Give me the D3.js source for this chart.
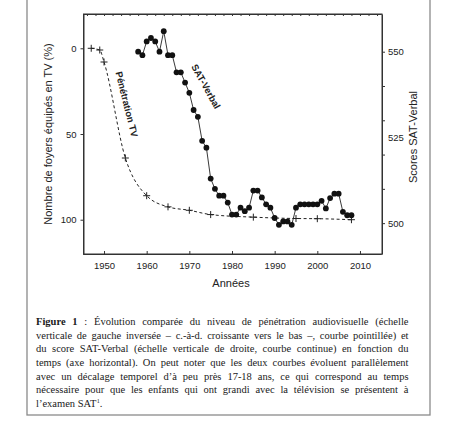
<!DOCTYPE html>
<html>
<head>
<meta charset="utf-8">
<script src="https://cdn.jsdelivr.net/npm/d3@7"></script>
<style>
  body { margin: 0; background: #fff; }
  svg { display: block; }
</style>
</head>
<body>
<div id="chart"></div>
<script>
// TV penetration (% of households, left axis, inverted)
const tvYears = [1947, 1949, 1950, 1955, 1960, 1965, 1970, 1975, 1985, 1995, 2000, 2008];
const tvPct = [0, 1, 8, 64, 86, 92.5, 94.5, 97, 98.5, 99.3, 99.4, 100];

// SAT-Verbal scores (right axis)
const satYears = [1958, 1959, 1960, 1961, 1962, 1963, 1964, 1965, 1966, 1967,
    1968, 1969, 1970, 1971, 1972, 1973, 1974, 1975, 1976, 1977,
    1978, 1979, 1980, 1981, 1982, 1983, 1984, 1985, 1986, 1987,
    1988, 1989, 1990, 1991, 1992, 1993, 1994, 1995, 1996, 1997,
    1998, 1999, 2000, 2001, 2002, 2003, 2004, 2005, 2006, 2007, 2008];
const satScores = [550, 549, 553, 554, 553, 550, 556, 549, 549, 544,
    544, 541, 538, 533, 531, 524, 522, 513, 510, 508,
    508, 506, 502.5, 502.5, 504.5, 503.5, 504.5, 509.5, 509.5, 507.5,
    505.5, 504.5, 501.5, 499.5, 500.5, 500.5, 499.5, 504.5, 505.5, 505.5,
    505.5, 505.5, 505.5, 506.5, 504.3, 507.3, 508.6, 508.6, 503.3, 502.3, 502.3];

// ticks
const xTicks = [1950, 1960, 1970, 1980, 1990, 2000, 2010];
const topTicks = [1946, 1948, 1950, 1952, 1954, 1956, 1958, 1960, 1962, 1964, 1966,
    1968, 1970, 1972, 1974, 1976, 1978, 1980, 1982, 1984, 1986, 1988, 1990,
    1992, 1994, 1996, 1998, 2000, 2002, 2004, 2006, 2008, 2010, 2012, 2014];
const leftTicks = [0, 50, 100];
const rightTicks = [500, 510, 520, 530, 540, 550];
const rightLabels = [500, 525, 550];

// caption lines (justified, last one left aligned)
const captionLines = [
    "Figure 1 : Évolution comparée du niveau de pénétration audiovisuelle (échelle",
    "verticale de gauche inversée – c.-à-d. croissante vers le bas –, courbe pointillée) et",
    "du score SAT-Verbal (échelle verticale de droite, courbe continue) en fonction du",
    "temps (axe horizontal). On peut noter que les deux courbes évoluent parallèlement",
    "avec un décalage temporel d’à peu près 17-18 ans, ce qui correspond au temps",
    "nécessaire pour que les enfants qui ont grandi avec la télévision se présentent à",
    "l’examen SAT"
];

const W = 465, H = 423;
const plot = { left: 83.5, right: 382, top: 14, bottom: 254 };
const sans = "'Liberation Sans', Arial, sans-serif";

const svg = d3.select("#chart").append("svg")
    .attr("width", W)
    .attr("height", H);

svg.append("rect").attr("width", W).attr("height", H).attr("fill", "#fff");

//outer figure frame
svg.append("rect")
    .attr("x", 27).attr("y", -2)
    .attr("width", 403).attr("height", 417)
    .attr("fill", "none")
    .attr("stroke", "#8a8a8a")
    .attr("stroke-width", 1.3);

//scales
const x = d3.scaleLinear().domain([1945, 2015]).range([82.7, 381.3]);
const yTv = d3.scaleLinear().domain([-20, 120]).range([plot.top, plot.bottom]);
const ySat = d3.scaleLinear().domain([491, 561]).range([plot.bottom, plot.top]);

//axes
const gBottom = svg.append("g")
    .attr("transform", "translate(0," + plot.bottom + ")")
    .call(d3.axisBottom(x).tickValues(xTicks).tickFormat(d3.format("d"))
        .tickSizeInner(-3).tickSizeOuter(0).tickPadding(8));

const gTop = svg.append("g")
    .attr("transform", "translate(0," + plot.top + ")")
    .call(d3.axisTop(x).tickValues(topTicks).tickFormat("")
        .tickSizeInner(-2).tickSizeOuter(0));

const gLeft = svg.append("g")
    .attr("transform", "translate(" + plot.left + ",0)")
    .call(d3.axisLeft(yTv).tickValues(leftTicks)
        .tickSizeInner(3).tickSizeOuter(0).tickPadding(4));

const gRight = svg.append("g")
    .attr("transform", "translate(" + plot.right + ",0)")
    .call(d3.axisRight(ySat).tickValues(rightTicks).tickFormat("")
        .tickSizeInner(3).tickSizeOuter(0));

svg.append("g")
    .attr("transform", "translate(" + plot.right + ",0)")
    .call(d3.axisRight(ySat).tickValues(rightLabels)
        .tickSize(0).tickPadding(6))
    .call(g => g.select(".domain").remove());

svg.selectAll(".domain").attr("stroke", "#333").attr("stroke-width", 1);
svg.selectAll(".tick line").attr("stroke", "#333");
svg.selectAll(".tick text")
    .attr("font-family", sans)
    .attr("font-size", 9.5)
    .attr("fill", "#222");

//frame
svg.append("rect")
    .attr("x", plot.left).attr("y", plot.top)
    .attr("width", plot.right - plot.left)
    .attr("height", plot.bottom - plot.top)
    .attr("fill", "none")
    .attr("stroke", "#333")
    .attr("stroke-width", 1);

//axis titles
svg.append("text")
    .attr("transform", "translate(52,134) rotate(-90)")
    .attr("text-anchor", "middle")
    .attr("font-family", sans)
    .attr("font-size", 11)
    .attr("fill", "#222")
    .text("Nombre de foyers équipés en TV (%)");

svg.append("text")
    .attr("transform", "translate(417,137) rotate(-90)")
    .attr("text-anchor", "middle")
    .attr("font-family", sans)
    .attr("font-size", 11)
    .attr("fill", "#222")
    .text("Scores SAT-Verbal");

svg.append("text")
    .attr("x", 231).attr("y", 287)
    .attr("text-anchor", "middle")
    .attr("font-family", sans)
    .attr("font-size", 11)
    .attr("fill", "#222")
    .text("Années");

//TV penetration dashed curve
const tvData = tvYears.map((d, i) => ({ year: d, v: tvPct[i] }));

svg.append("path")
    .datum(tvData)
    .attr("fill", "none")
    .attr("stroke", "#222")
    .attr("stroke-width", 1)
    .attr("stroke-dasharray", "3,2.5")
    .attr("d", d3.line()
        .x(d => x(d.year))
        .y(d => yTv(d.v))
        .curve(d3.curveMonotoneX));

svg.selectAll(".tvCross")
    .data(tvData)
    .enter()
    .append("path")
    .attr("class", "tvCross")
    .attr("transform", d => "translate(" + x(d.year) + "," + yTv(d.v) + ")")
    .attr("d", "M-3.5,0H3.5M0,-3.5V3.5")
    .attr("stroke", "#222")
    .attr("stroke-width", 1);

//SAT-Verbal solid line with dots
const satData = satYears.map((d, i) => ({ year: d, v: satScores[i] }));

svg.append("path")
    .datum(satData)
    .attr("fill", "none")
    .attr("stroke", "#222")
    .attr("stroke-width", 0.9)
    .attr("d", d3.line()
        .x(d => x(d.year))
        .y(d => ySat(d.v)));

svg.selectAll(".satDot")
    .data(satData)
    .enter()
    .append("circle")
    .attr("class", "satDot")
    .attr("cx", d => x(d.year))
    .attr("cy", d => ySat(d.v))
    .attr("r", 2.9)
    .attr("fill", "#111");

//curve labels
svg.append("text")
    .attr("transform", "translate(123.5,105) rotate(76)")
    .attr("text-anchor", "middle")
    .attr("font-family", sans)
    .attr("font-size", 9.5)
    .attr("font-weight", "bold")
    .attr("fill", "#222")
    .text("Pénétration TV");

svg.append("text")
    .attr("transform", "translate(203,88) rotate(61)")
    .attr("text-anchor", "middle")
    .attr("font-family", sans)
    .attr("font-size", 9.5)
    .attr("font-weight", "bold")
    .attr("fill", "#222")
    .text("SAT-Verbal");

//caption, justified word by word
const serif = "'Liberation Serif', 'Times New Roman', serif";
const capLeft = 36, capRight = 408.5, capTop = 325, capStep = 13.65;

captionLines.forEach((line, li) => {
    let words = line.split(" ");
    let y = capTop + li * capStep;
    let g = svg.append("g");
    let nodes = words.map((w, wi) => {
        let t = g.append("text")
            .attr("y", y)
            .attr("font-family", serif)
            .attr("font-size", 10.5)
            .attr("fill", "#1a1a1a")
            .text(w);
        if (li === 0 && wi < 2) t.attr("font-weight", "bold");
        return t;
    });
    let widths = nodes.map(n => n.node().getComputedTextLength());
    let total = d3.sum(widths);
    let last = li === captionLines.length - 1;
    let gap = last ? 2.6 : (capRight - capLeft - total) / (words.length - 1);
    let cx = capLeft;
    nodes.forEach((n, i) => {
        n.attr("x", cx);
        cx += widths[i] + gap;
    });
    if (last) {
        g.append("text")
            .attr("x", cx - gap + 0.5)
            .attr("y", y - 4)
            .attr("font-family", serif)
            .attr("font-size", 6)
            .attr("fill", "#1a1a1a")
            .text("1");
        g.append("text")
            .attr("x", cx - gap + 3.5)
            .attr("y", y)
            .attr("font-family", serif)
            .attr("font-size", 10.5)
            .attr("fill", "#1a1a1a")
            .text(".");
    }
});
</script>
</body>
</html>
